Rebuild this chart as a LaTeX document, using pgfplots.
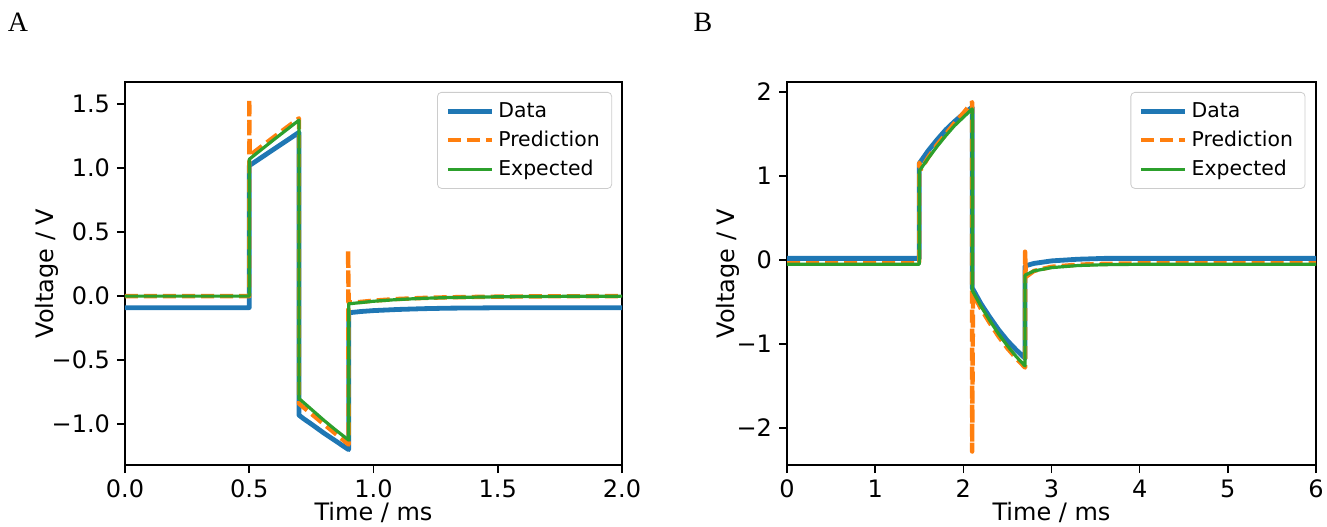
\documentclass[border=0pt]{standalone}
\usepackage{pgfplots}
\pgfplotsset{compat=1.18}
\usepackage{fontspec}
\setmainfont{DejaVu Sans}
\newfontfamily\panelfont{Liberation Serif}
\definecolor{mblue}{RGB}{31,119,180}
\definecolor{morange}{RGB}{255,127,14}
\definecolor{mgreen}{RGB}{44,160,44}
\pgfplotsset{
  myaxis/.style={
    scale only axis,
    axis line style={line width=0.8pt},
    tick align=outside,
    major tick length=4pt,
    every tick/.style={black, line width=0.8pt},
    xtick pos=bottom, ytick pos=left,
    tick label style={font=\fontsize{12}{14}\selectfont},
    label style={font=\fontsize{12}{14}\selectfont},
    xlabel={Time / ms}, ylabel={Voltage / V},
    xlabel style={at={(axis description cs:0.5,-0.125)}, anchor=center},
    legend style={at={(rel axis cs:0.98,0.974)}, anchor=north east,
      draw=black!20, rounded corners=2pt, fill=white, fill opacity=0.8, text opacity=1,
      font=\fontsize{10.2}{12}\selectfont, inner xsep=4pt, inner ysep=3pt,
      row sep=1.3pt},
    legend cell align=left,
    legend image code/.code={\draw[#1] (0pt,0pt) -- (22pt,0pt);},
  },
  datastyle/.style={mblue, line width=2.4pt, line join=round},
  predstyle/.style={morange, line width=2.2pt, line join=round, dash pattern=on 6.5pt off 3pt},
  expstyle/.style={mgreen, line width=1.6pt, line join=round},
}
\begin{document}
\begin{tikzpicture}
\useasboundingbox (-62.5pt,-30.5pt) rectangle (601pt,232.5pt);
\node[font=\panelfont\fontsize{14}{16}\selectfont] at (-53.5pt,221.5pt) {A};
\node[font=\panelfont\fontsize{14}{16}\selectfont] at (289pt,221.5pt) {B};
% Panel A
\begin{axis}[myaxis, at={(0pt,0pt)}, anchor=south west,
  width=248.5pt, height=191.5pt,
  xmin=0, xmax=2, ymin=-1.32, ymax=1.674,
  xtick={0,0.5,1,1.5,2}, xticklabels={0.0,0.5,1.0,1.5,2.0},
  ytick={-1,-0.5,0,0.5,1,1.5}, yticklabels={−1.0,−0.5,0.0,0.5,1.0,1.5},
  ylabel style={at={(axis description cs:-0.157,0.5)}, anchor=center},
]
\addplot[datastyle] coordinates {
(0,-0.09) (0.5,-0.09) (0.5,1.02) (0.7,1.28) (0.7,-0.93) (0.72,-0.96) (0.75,-1.0)
(0.8,-1.07) (0.85,-1.135) (0.9,-1.20) (0.9,-0.13) (0.95,-0.12) (1.0,-0.113)
(1.1,-0.104) (1.2,-0.098) (1.3,-0.094) (1.5,-0.091) (1.7,-0.09) (2.0,-0.09)};
\addlegendentry{Data}
\addplot[predstyle] coordinates {
(0,0) (0.5,0) (0.5,1.54) (0.502,1.10) (0.6,1.245) (0.7,1.39) (0.7,-0.84)
(0.75,-0.92) (0.8,-1.0) (0.85,-1.08) (0.9,-1.16) (0.898,0.36) (0.9,-0.05)
(0.95,-0.045) (1.0,-0.035) (1.1,-0.022) (1.2,-0.014) (1.3,-0.009) (1.5,-0.004)
(1.7,-0.001) (2.0,0)};
\addlegendentry{Prediction}
\addplot[expstyle] coordinates {
(0,0) (0.5,0) (0.5,1.07) (0.6,1.225) (0.7,1.375) (0.7,-0.80) (0.75,-0.885)
(0.8,-0.97) (0.85,-1.05) (0.9,-1.125) (0.9,-0.06) (0.95,-0.05) (1.0,-0.04)
(1.1,-0.026) (1.2,-0.017) (1.3,-0.011) (1.5,-0.005) (1.7,-0.002) (2.0,0)};
\addlegendentry{Expected}
\end{axis}
% Panel B
\begin{axis}[myaxis, at={(331pt,0pt)}, anchor=south west,
  width=264.5pt, height=191.5pt,
  xmin=0, xmax=6, ymin=-2.44, ymax=2.12,
  xtick={0,1,2,3,4,5,6}, xticklabels={0,1,2,3,4,5,6},
  ytick={-2,-1,0,1,2}, yticklabels={−2,−1,0,1,2},
  ylabel style={at={(axis description cs:-0.1115,0.5)}, anchor=center},
]
\addplot[datastyle] coordinates {
(0,0.02) (1.5,0.02) (1.5,1.15) (1.6,1.30) (1.7,1.43) (1.8,1.55) (1.9,1.65)
(2.0,1.74) (2.1,1.82) (2.1,-0.33) (2.2,-0.52) (2.3,-0.68) (2.4,-0.83) (2.5,-0.96)
(2.6,-1.07) (2.7,-1.17) (2.7,-0.07) (2.8,-0.04) (3.0,-0.01) (3.3,0.01) (3.6,0.02)
(6,0.02)};
\addlegendentry{Data}
\addplot[predstyle] coordinates {
(0,-0.04) (1.5,-0.04) (1.5,1.16) (1.52,1.08) (1.6,1.22) (1.7,1.37) (1.8,1.50)
(1.9,1.63) (2.0,1.75) (2.1,1.88) (2.1,-2.28) (2.11,-0.40) (2.2,-0.58) (2.3,-0.75)
(2.4,-0.91) (2.5,-1.05) (2.6,-1.17) (2.7,-1.28) (2.7,0.10) (2.71,-0.20)
(2.8,-0.13) (3.0,-0.08) (3.3,-0.055) (3.6,-0.045) (4,-0.04) (6,-0.04)};
\addlegendentry{Prediction}
\addplot[expstyle] coordinates {
(0,-0.05) (1.5,-0.05) (1.5,1.06) (1.6,1.21) (1.7,1.35) (1.8,1.48) (1.9,1.60)
(2.0,1.70) (2.1,1.80) (2.1,-0.36) (2.2,-0.55) (2.3,-0.72) (2.4,-0.88) (2.5,-1.02)
(2.6,-1.15) (2.7,-1.26) (2.7,-0.18) (2.8,-0.13) (3.0,-0.09) (3.3,-0.065)
(3.6,-0.055) (4,-0.05) (6,-0.05)};
\addlegendentry{Expected}
\end{axis}
\end{tikzpicture}
\end{document}
